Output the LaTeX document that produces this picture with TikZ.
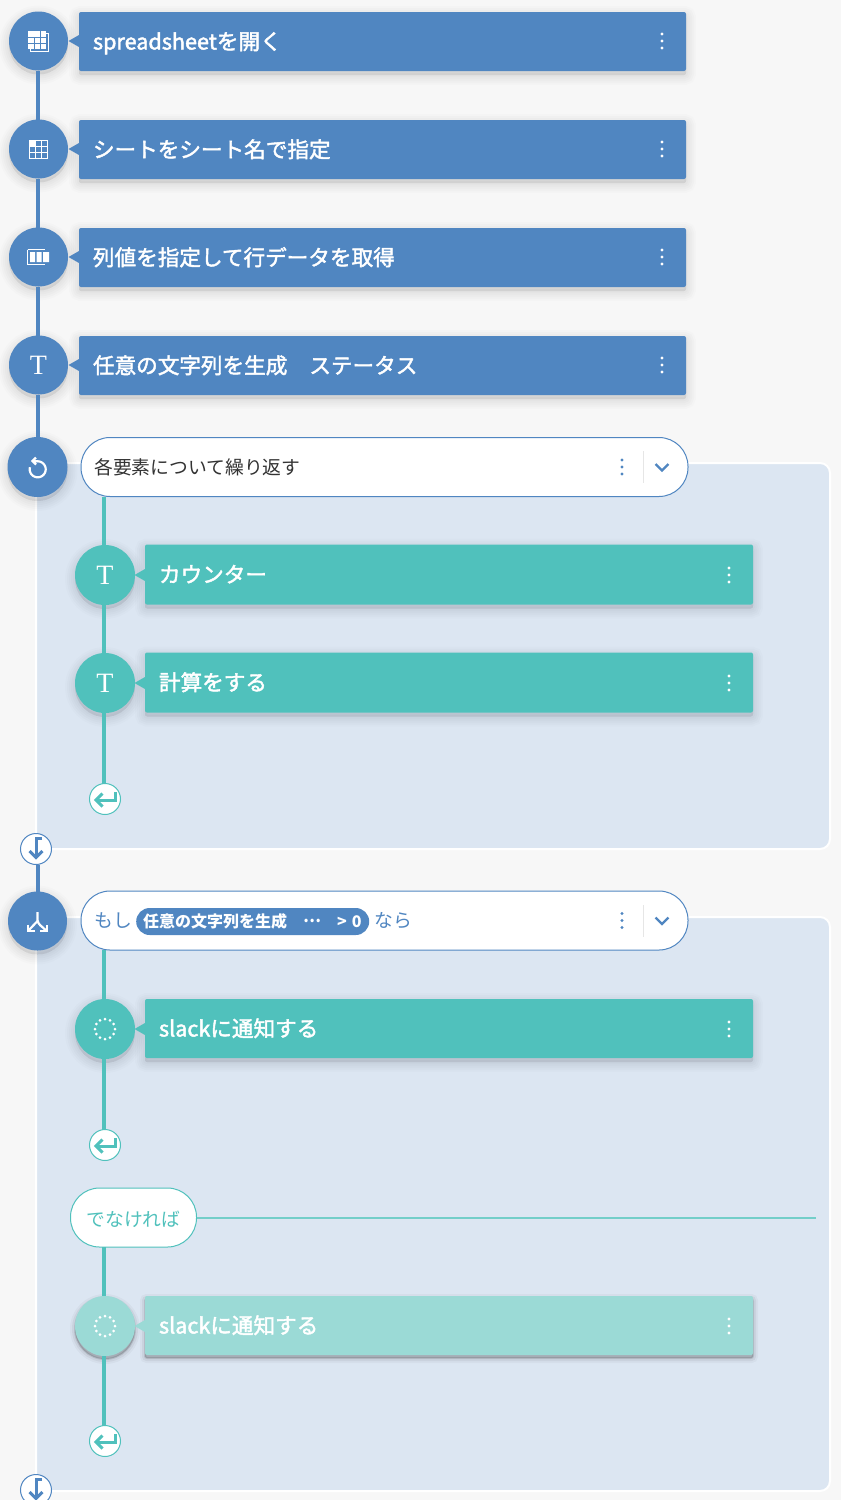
\documentclass[tikz,border=0pt]{standalone}
\usepackage{fontspec}
\setmainfont{Noto Sans CJK JP}
\newfontfamily\stepfont[FakeBold=2]{Noto Sans CJK JP}
\newfontfamily\iconfont{Liberation Serif}

\definecolor{flowblue}{HTML}{5086C1}
\definecolor{flowteal}{HTML}{50C1BC}
\definecolor{fadeteal}{HTML}{9BDAD6}
\definecolor{panelblue}{HTML}{DCE6F2}
\definecolor{pagegray}{HTML}{F7F7F7}
\definecolor{sepgray}{HTML}{E6E6E6}
\definecolor{labeldark}{HTML}{333333}

\tikzset{
  softshadow/.style={
    preaction={draw=black, fill=black, opacity=.012, line width=20pt, transform canvas={yshift=-4pt}},
    preaction={draw=black, fill=black, opacity=.015, line width=16pt, transform canvas={yshift=-4pt}},
    preaction={draw=black, fill=black, opacity=.015, line width=12pt, transform canvas={yshift=-4pt}},
    preaction={draw=black, fill=black, opacity=.015, line width=8pt, transform canvas={yshift=-4pt}},
    preaction={draw=black, fill=black, opacity=.015, line width=4pt, transform canvas={yshift=-4pt}}},
  hardshadow/.style={
    preaction={draw=black, fill=black, opacity=.03, line width=10pt, transform canvas={yshift=-3pt}},
    preaction={draw=black, fill=black, opacity=.05, line width=6pt, transform canvas={yshift=-3pt}},
    preaction={draw=black, fill=black, opacity=.1, line width=2pt, transform canvas={yshift=-3pt}}},
  stepcircle/.style={circle, minimum size=59pt, inner sep=0pt, outer sep=0pt, text=white},
  stepbox/.style={rectangle, rounded corners=2pt, text width=579pt, inner xsep=14pt, inner ysep=0pt,
    minimum height=59pt, outer sep=0pt, anchor=west, align=left, text=white, text height=19pt, text depth=3pt,
    font=\stepfont\fontsize{21.6}{26}\selectfont},
  headpill/.style={rectangle, rounded corners=29pt, draw=flowblue, line width=1pt, fill=white,
    minimum width=607pt, minimum height=59pt, inner sep=0pt, outer sep=0pt, anchor=west},
  headtext/.style={anchor=west, inner sep=0pt, font=\fontsize{18.8}{22}\selectfont},
  badgetext/.style={inner sep=0pt, text=white, font=\bfseries\fontsize{16}{20}\selectfont},
  smallcircle/.style={circle, fill=white, draw=#1, line width=1pt, minimum size=31pt, inner sep=0pt, outer sep=0pt},
  panel/.style={draw=white, line width=2pt, fill=panelblue, rounded corners=10pt},
  blueline/.style={draw=flowblue, line width=4pt},
  tealline/.style={draw=flowteal, line width=4pt},
  iconline/.style={draw=#1, line width=3pt, line join=miter},
  ticon/.style={text=white, font=\iconfont\fontsize{28}{28}\selectfont, inner sep=0pt}
}

% small wedge between a circle and its box
\newcommand{\stepwedge}[3]{\fill[#1] (#2-10.5,#3) -- (#2,#3-6) -- (#2,#3+6) -- cycle;}
% three dots of a menu
\newcommand{\menudots}[3]{
  \fill[#1] (#2,#3-7) circle (1.6pt) (#2,#3) circle (1.6pt) (#2,#3+7) circle (1.6pt);
}
\newcommand{\returnicon}[2]{
  \draw[iconline=flowteal] (#1+10,#2-7) -- (#1+10,#2+1) -- (#1-8,#2+1);
  \draw[iconline=flowteal] (#1-2.5,#2-5.5) -- (#1-9,#2+1) -- (#1-2.5,#2+7.5);
}
\newcommand{\downicon}[2]{
  \draw[iconline=flowblue] (#1+6,#2-10.5) -- (#1,#2-10.5) -- (#1,#2+7);
  \draw[iconline=flowblue] (#1-6.5,#2+2) -- (#1,#2+8.5) -- (#1+6.5,#2+2);
}
\newcommand{\dotring}[3]{
  \foreach \a in {0,30,...,330}
    \fill[#3] (#1,#2) ++(\a:10) circle (1.5pt);
}

\begin{document}
\begin{tikzpicture}[x=1pt, y=-1pt]
  \fill[pagegray] (0,0) rectangle (841,1500);
  \useasboundingbox (0,0) rectangle (841,1500);

  % panels behind the two blocks
  \draw[panel] (36,463) rectangle (830,849);
  \draw[panel] (36,917) rectangle (830,1491);

  % blue steps
  \node[stepcircle, softshadow, fill=flowblue] (openc) at (38.5,41) {};
  \node[stepbox, softshadow, fill=flowblue] (openb) at (79,41.5) {spreadsheetを開く};
  \node[stepcircle, softshadow, fill=flowblue] (sheetc) at (38.5,149) {};
  \node[stepbox, softshadow, fill=flowblue] (sheetb) at (79,149.5) {シートをシート名で指定};
  \node[stepcircle, softshadow, fill=flowblue] (rowc) at (38.5,257) {};
  \node[stepbox, softshadow, fill=flowblue] (rowb) at (79,257.5) {列値を指定して行データを取得};
  \node[stepcircle, softshadow, fill=flowblue] (textc) at (38.5,365) {};
  \node[stepbox, softshadow, fill=flowblue] (textb) at (79,365.5) {任意の文字列を生成\hspace{22pt}ステータス};
  \stepwedge{flowblue}{79}{41}
  \stepwedge{flowblue}{79}{149}
  \stepwedge{flowblue}{79}{257}
  \stepwedge{flowblue}{79}{365}
  \menudots{white}{662}{41}
  \menudots{white}{662}{149}
  \menudots{white}{662}{257}
  \menudots{white}{662}{365}

  % icons of the blue steps
  \draw[white, line width=1pt] (30.5,33.5) rectangle (48.5,51);
  \fill[white] (28,31) rectangle (46,49);
  \draw[flowblue, line width=1pt] (28,37) -- (46,37) (28,43) -- (46,43) (34,37) -- (34,49) (40,31) -- (40,49);
  \draw[white, line width=1pt] (29.5,140.5) rectangle (47.5,158) (29.5,146.5) -- (47.5,146.5) (29.5,152.5) -- (47.5,152.5)
    (35.5,140.5) -- (35.5,158) (41.5,140.5) -- (41.5,158);
  \fill[white] (29.5,140.5) rectangle (35.5,146.5);
  \draw[white, line width=1pt] (27.5,249.5) -- (45,249.5) (27.5,249.5) -- (27.5,264.5) -- (45,264.5);
  \fill[white] (30,252) rectangle (35,262) (36.5,252) rectangle (41.5,262) (43,252) rectangle (49,262);
  \node[ticon] (tone) at (38.5,365) {T};

  % repeat block
  \node[stepcircle, softshadow, fill=flowblue, minimum size=60pt] (loopc) at (37.5,467) {};
  \node[headpill] (loophead) at (81,467) {};
  \node[headtext, text=labeldark] (looptext) at (94,467) {各要素について繰り返す};
  \menudots{flowblue}{622}{467}
  \draw[sepgray, line width=1pt] (643.5,451) -- (643.5,483);
  \draw[flowblue, line width=2.2pt] (655.5,464) -- (662,470.5) -- (668.5,464);
  \draw[white, line width=2.2pt, domain=-90:195, samples=40, smooth] plot ({37.7+8*cos(\x)},{469.3+8*sin(\x)});
  \draw[white, line width=2.2pt] (36,457.5) -- (32.5,461) -- (36,464.5) (32.5,461) -- (38,461.3);

  \node[stepcircle, softshadow, fill=flowteal, minimum size=60pt] (countc) at (105,575) {};
  \node[stepbox, softshadow, fill=flowteal, minimum height=60pt, text width=580pt] (countb) at (145,574.5) {カウンター};
  \node[stepcircle, softshadow, fill=flowteal, minimum size=60pt] (calcc) at (105,683) {};
  \node[stepbox, softshadow, fill=flowteal, minimum height=60pt, text width=580pt] (calcb) at (145,682.5) {計算をする};
  \stepwedge{flowteal}{145}{575}
  \stepwedge{flowteal}{145}{683}
  \menudots{white}{729}{575}
  \menudots{white}{729}{683}
  \node[ticon] (ttwo) at (105,575) {T};
  \node[ticon] (tthree) at (105,683) {T};
  \node[smallcircle=flowteal] (loopback) at (105,799) {};
  \returnicon{105}{799}
  \node[smallcircle=flowblue] (loopout) at (36,849) {};
  \downicon{36}{849}

  % condition block
  \node[stepcircle, softshadow, fill=flowblue] (ifc) at (37.5,921) {};
  \node[headpill] (ifhead) at (81,920.5) {};
  \node[headtext, text=flowblue] (iftext) at (94,921) {もし};
  \node[rectangle, rounded corners=13.5pt, fill=flowblue, minimum width=233pt, minimum height=27pt,
    inner sep=0pt, anchor=west] (ifbadge) at (136,921.5) {};
  \node[badgetext, anchor=west] (badgename) at (143,921) {任意の文字列を生成};
  \node[badgetext] (badgedots) at (312,921) {…};
  \node[badgetext, anchor=west] (badgeval) at (337,921.5) {>\hspace{5pt}0};
  \node[headtext, text=flowblue] (thentext) at (374,921) {なら};
  \menudots{flowblue}{622}{920.5}
  \draw[sepgray, line width=1pt] (643.5,905) -- (643.5,937);
  \draw[flowblue, line width=2.2pt] (655.5,917.5) -- (662,924) -- (668.5,917.5);
  \draw[white, line width=2.2pt] (37.5,912) -- (37.5,920) .. controls (38,925) and (42,926) .. (45.5,930);
  \draw[white, line width=2.2pt] (37.5,921) -- (29,930);
  \draw[white, line width=2pt] (28,924.5) -- (28,931) -- (35,931);
  \draw[white, line width=2pt] (40,931) -- (47,931) -- (47,924.5);

  \node[stepcircle, softshadow, fill=flowteal, minimum size=60pt] (slackc) at (105,1029) {};
  \node[stepbox, softshadow, fill=flowteal, text width=580pt] (slackb) at (145,1028.5) {slackに通知する};
  \stepwedge{flowteal}{145}{1029}
  \menudots{white}{729}{1029}
  \dotring{105}{1029}{white}
  \node[smallcircle=flowteal] (thenback) at (105,1145) {};
  \returnicon{105}{1145}

  \node[rectangle, rounded corners=29pt, draw=flowteal, line width=1pt, fill=white, minimum width=126pt,
    minimum height=59pt, inner sep=0pt, outer sep=0pt, text=flowteal, text height=17pt, text depth=0pt,
    font=\fontsize{18.8}{22}\selectfont] (elsehead) at (133.5,1217.5) {でなければ};
  \coordinate (elseend) at (816,1218);
  \draw[flowteal!80!white, line width=1.4pt] (elsehead.east |- elseend) -- (elseend);

  \node[stepcircle, hardshadow, fill=fadeteal, minimum size=60pt] (slackfc) at (105,1326) {};
  \node[stepbox, hardshadow, fill=fadeteal, text width=580pt] (slackfb) at (145,1325.5) {slackに通知する};
  \stepwedge{fadeteal}{145}{1326}
  \menudots{white}{729}{1326}
  \dotring{105}{1326}{white}
  \node[smallcircle=flowteal] (elseback) at (105,1441) {};
  \returnicon{105}{1441}
  \node[smallcircle=flowblue] (ifout) at (36,1490) {};
  \downicon{36}{1490}

  % connectors
  \coordinate (bluestem) at (38,0);
  \coordinate (loopstem) at (104,497);
  \coordinate (ifstem) at (104,950);
  \coordinate (elsestem) at (104,1247);
  \draw[blueline] (bluestem |- openc.south) -- (bluestem |- sheetc.north);
  \draw[blueline] (bluestem |- sheetc.south) -- (bluestem |- rowc.north);
  \draw[blueline] (bluestem |- rowc.south) -- (bluestem |- textc.north);
  \draw[blueline] (bluestem |- textc.south) -- (bluestem |- loopc.north);
  \draw[blueline] (bluestem |- loopout.south) -- (bluestem |- ifc.north);
  \draw[tealline] (loopstem) -- (loopstem |- countc.north);
  \draw[tealline] (loopstem |- countc.south) -- (loopstem |- calcc.north);
  \draw[tealline] (loopstem |- calcc.south) -- (loopstem |- loopback.north);
  \draw[tealline] (ifstem) -- (ifstem |- slackc.north);
  \draw[tealline] (ifstem |- slackc.south) -- (ifstem |- thenback.north);
  \draw[tealline] (elsestem) -- (elsestem |- slackfc.north);
  \draw[tealline] (elsestem |- slackfc.south) -- (elsestem |- elseback.north);
\end{tikzpicture}
\end{document}
